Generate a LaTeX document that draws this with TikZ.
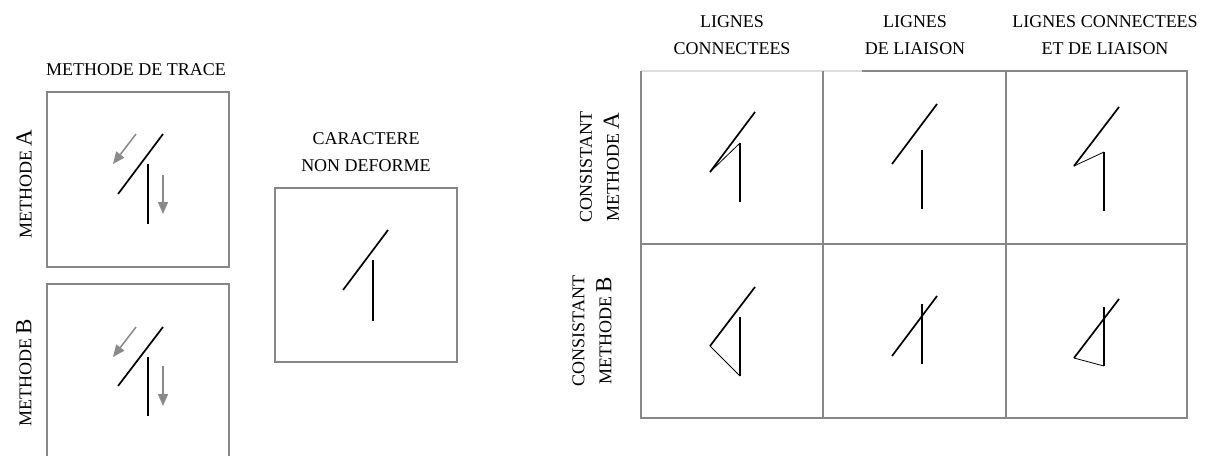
\documentclass[tikz,border=0pt]{standalone}
\usepackage{fontspec}
\setmainfont{Liberation Serif}
\usetikzlibrary{arrows.meta}
\definecolor{framegray}{HTML}{878787}
\definecolor{faintgray}{HTML}{DDDDDD}
\definecolor{arrowgray}{HTML}{8A8A8A}
\newcommand\BigLetter[1]{{\fontsize{23}{27}\selectfont #1}}
\begin{document}
\begin{tikzpicture}[x=1pt,y=-1pt,
  lbl/.style={font=\fontsize{18}{27}\selectfont, inner sep=0pt, align=center},
  frame/.style={draw=framegray, line width=1.8pt},
  stroke/.style={draw=black, line width=1.7pt},
  thin/.style={draw=black, line width=0.8pt, line join=miter},
  dirarrow/.style={draw=arrowgray, line width=1.5pt, -{Triangle[length=12pt,width=10pt]}}]
\useasboundingbox (0,0) rectangle (1213,456);
% ---------- left column: tracing methods ----------
\node[lbl] (ttrace) at (136,70) {METHODE DE TRACE};
\node[lbl, rotate=90] (lmA) at (24,184) {METHODE \BigLetter{A}};
\node[lbl, rotate=90] (lmB) at (24,373) {METHODE \BigLetter{B}};
\draw[frame] (47,92) rectangle (229,267);
\draw[frame] (47,456) -- (47,284) -- (229,284) -- (229,456);
% box A strokes
\coordinate (a1) at (118,194); \coordinate (a2) at (163,134);
\coordinate (a3) at (148,164); \coordinate (a4) at (148,224);
\draw[stroke] (a1) -- (a2);
\draw[stroke] (a3) -- (a4);
\coordinate (aa1) at (136,134); \coordinate (aa2) at (113,164);
\coordinate (aa3) at (163,175); \coordinate (aa4) at (163,214);
\draw[dirarrow] (aa1) -- (aa2);
\draw[dirarrow] (aa3) -- (aa4);
% box B strokes
\coordinate (b1) at (118,386); \coordinate (b2) at (163,327);
\coordinate (b3) at (148,357); \coordinate (b4) at (148,416);
\draw[stroke] (b1) -- (b2);
\draw[stroke] (b3) -- (b4);
\coordinate (ba1) at (136,327); \coordinate (ba2) at (113,357);
\coordinate (ba3) at (163,366); \coordinate (ba4) at (163,406);
\draw[dirarrow] (ba1) -- (ba2);
\draw[dirarrow] (ba3) -- (ba4);
% ---------- undeformed character ----------
\node[lbl] (tcar) at (366,152.5) {CARACTERE\\NON DEFORME};
\draw[frame] (275,188) rectangle (457,362);
\coordinate (c1) at (343,290); \coordinate (c2) at (388,230);
\coordinate (c3) at (373,260); \coordinate (c4) at (373,321);
\draw[stroke] (c1) -- (c2);
\draw[stroke] (c3) -- (c4);
% ---------- grid ----------
\node[lbl] (h1) at (732,35.5) {LIGNES\\CONNECTEES};
\node[lbl] (h2) at (915,35.5) {LIGNES\\DE LIAISON};
\node[lbl] (h3) at (1105,35.5) {LIGNES CONNECTEES\\ET DE LIAISON};
\node[lbl, rotate=90] (r1) at (599.5,167) {CONSISTANT\\METHODE \BigLetter{A}};
\node[lbl, rotate=90] (r2) at (592,331) {CONSISTANT\\METHODE \BigLetter{B}};
\draw[draw=faintgray, line width=1.5pt] (641,71) -- (862,71);
\draw[frame] (862,71) -- (1187,71) -- (1187,418) -- (641,418) -- (641,71);
\draw[frame] (823,71) -- (823,418);
\draw[frame] (1006,71) -- (1006,418);
\draw[frame] (641,244) -- (1187,244);
% cell 1,1
\coordinate (p11a) at (710,172); \coordinate (p11b) at (755,112);
\coordinate (p11c) at (740,143); \coordinate (p11d) at (740,202);
\draw[stroke] (p11a) -- (p11b);
\draw[thin] (p11a) -- (p11c);
\draw[stroke] (p11c) -- (p11d);
% cell 1,2
\coordinate (p12a) at (892,164); \coordinate (p12b) at (937,104);
\coordinate (p12c) at (922,150); \coordinate (p12d) at (922,209);
\draw[stroke] (p12a) -- (p12b);
\draw[stroke] (p12c) -- (p12d);
% cell 1,3
\coordinate (p13a) at (1074,166); \coordinate (p13b) at (1119,107);
\coordinate (p13c) at (1104,152); \coordinate (p13d) at (1104,211);
\draw[stroke] (p13a) -- (p13b);
\draw[thin] (p13a) -- (p13c);
\draw[stroke] (p13c) -- (p13d);
% cell 2,1
\coordinate (p21a) at (710,346); \coordinate (p21b) at (755,287);
\coordinate (p21c) at (740,317); \coordinate (p21d) at (740,376);
\draw[stroke] (p21a) -- (p21b);
\draw[thin] (p21a) -- (p21d);
\draw[stroke] (p21c) -- (p21d);
% cell 2,2
\coordinate (p22a) at (892,356); \coordinate (p22b) at (937,296);
\coordinate (p22c) at (922,304); \coordinate (p22d) at (922,364);
\draw[stroke] (p22a) -- (p22b);
\draw[stroke] (p22c) -- (p22d);
% cell 2,3
\coordinate (p23a) at (1074,358); \coordinate (p23b) at (1119,299);
\coordinate (p23c) at (1104,307); \coordinate (p23d) at (1104,366);
\draw[stroke] (p23a) -- (p23b);
\draw[thin] (p23a) -- (p23d);
\draw[stroke] (p23c) -- (p23d);
\end{tikzpicture}
\end{document}
